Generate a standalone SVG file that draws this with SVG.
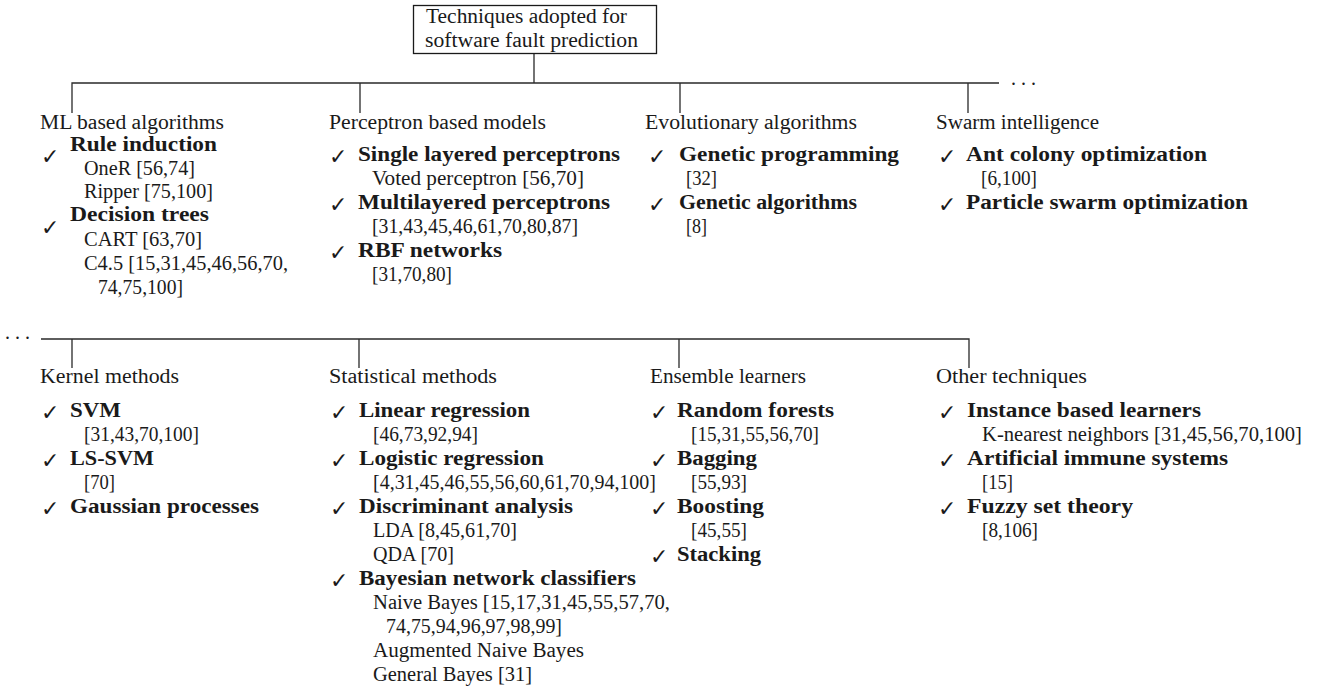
<svg xmlns="http://www.w3.org/2000/svg" width="1323" height="690" viewBox="0 0 1323 690">
<style>
text{font-family:"Liberation Serif","Times New Roman",serif;font-size:20px;fill:#1a1a1a}
.b{font-weight:bold}
.ck{font-family:"DejaVu Sans",sans-serif;font-size:22px;fill:#1a1a1a}
.ln{stroke:#2a2a2a;stroke-width:1.3;fill:none}
.dots{letter-spacing:5px}
</style>
<rect width="1323" height="690" fill="#ffffff"/>
<g id="connectors">
<path class="ln" d="M534 53V83M72 113V83H999M360 83V113M680 83V113M968 83V113"/>
<path class="ln" d="M41 339H969V368M72 339V368M359 339V368M679 339V368"/>
</g>
<text class="dots" x="1011" y="85">...</text>
<text class="dots" x="5" y="339">...</text>
<g id="root">
<rect x="413.5" y="5.5" width="243" height="48" fill="#fff" stroke="#1a1a1a" stroke-width="1.3"/>
<text x="426" y="23" textLength="201" lengthAdjust="spacingAndGlyphs">Techniques adopted for</text>
<text x="425" y="47" textLength="213" lengthAdjust="spacingAndGlyphs">software fault prediction</text>
</g>
<g id="ml">
<text x="40" y="129" textLength="184" lengthAdjust="spacingAndGlyphs">ML based algorithms</text>
<text class="ck" x="41" y="164">✓</text>
<text class="b" x="70" y="151" textLength="147" lengthAdjust="spacingAndGlyphs">Rule induction</text>
<text x="84" y="175" textLength="111" lengthAdjust="spacingAndGlyphs">OneR [56,74]</text>
<text x="84" y="198" textLength="129" lengthAdjust="spacingAndGlyphs">Ripper [75,100]</text>
<text class="ck" x="41" y="235">✓</text>
<text class="b" x="70" y="221" textLength="139" lengthAdjust="spacingAndGlyphs">Decision trees</text>
<text x="84" y="246" textLength="118" lengthAdjust="spacingAndGlyphs">CART [63,70]</text>
<text x="84" y="270" textLength="204" lengthAdjust="spacingAndGlyphs">C4.5 [15,31,45,46,56,70,</text>
<text x="98" y="294" textLength="85" lengthAdjust="spacingAndGlyphs">74,75,100]</text>
</g>
<g id="perceptron">
<text x="329" y="129" textLength="217" lengthAdjust="spacingAndGlyphs">Perceptron based models</text>
<text class="ck" x="329" y="164">✓</text>
<text class="b" x="358" y="161" textLength="262" lengthAdjust="spacingAndGlyphs">Single layered perceptrons</text>
<text x="372" y="185" textLength="212" lengthAdjust="spacingAndGlyphs">Voted perceptron [56,70]</text>
<text class="ck" x="329" y="212">✓</text>
<text class="b" x="358" y="209" textLength="252" lengthAdjust="spacingAndGlyphs">Multilayered perceptrons</text>
<text x="372" y="233" textLength="206" lengthAdjust="spacingAndGlyphs">[31,43,45,46,61,70,80,87]</text>
<text class="ck" x="329" y="260">✓</text>
<text class="b" x="358" y="257" textLength="144" lengthAdjust="spacingAndGlyphs">RBF networks</text>
<text x="372" y="281" textLength="80" lengthAdjust="spacingAndGlyphs">[31,70,80]</text>
</g>
<g id="evolutionary">
<text x="645" y="129" textLength="212" lengthAdjust="spacingAndGlyphs">Evolutionary algorithms</text>
<text class="ck" x="648" y="164">✓</text>
<text class="b" x="679" y="161" textLength="220" lengthAdjust="spacingAndGlyphs">Genetic programming</text>
<text x="686" y="185" textLength="31" lengthAdjust="spacingAndGlyphs">[32]</text>
<text class="ck" x="648" y="212">✓</text>
<text class="b" x="679" y="209" textLength="178" lengthAdjust="spacingAndGlyphs">Genetic algorithms</text>
<text x="686" y="233" textLength="21" lengthAdjust="spacingAndGlyphs">[8]</text>
</g>
<g id="swarm">
<text x="936" y="129" textLength="163" lengthAdjust="spacingAndGlyphs">Swarm intelligence</text>
<text class="ck" x="938" y="164">✓</text>
<text class="b" x="966" y="161" textLength="241" lengthAdjust="spacingAndGlyphs">Ant colony optimization</text>
<text x="981" y="185" textLength="56" lengthAdjust="spacingAndGlyphs">[6,100]</text>
<text class="ck" x="938" y="212">✓</text>
<text class="b" x="966" y="209" textLength="282" lengthAdjust="spacingAndGlyphs">Particle swarm optimization</text>
</g>
<g id="kernel">
<text x="40" y="383" textLength="139" lengthAdjust="spacingAndGlyphs">Kernel methods</text>
<text class="ck" x="41" y="420">✓</text>
<text class="b" x="70" y="417" textLength="51" lengthAdjust="spacingAndGlyphs">SVM</text>
<text x="84" y="441" textLength="115" lengthAdjust="spacingAndGlyphs">[31,43,70,100]</text>
<text class="ck" x="41" y="468">✓</text>
<text class="b" x="70" y="465" textLength="84" lengthAdjust="spacingAndGlyphs">LS-SVM</text>
<text x="84" y="489" textLength="31" lengthAdjust="spacingAndGlyphs">[70]</text>
<text class="ck" x="41" y="516">✓</text>
<text class="b" x="70" y="513" textLength="189" lengthAdjust="spacingAndGlyphs">Gaussian processes</text>
</g>
<g id="statistical">
<text x="329" y="383" textLength="168" lengthAdjust="spacingAndGlyphs">Statistical methods</text>
<text class="ck" x="330" y="420">✓</text>
<text class="b" x="359" y="417" textLength="171" lengthAdjust="spacingAndGlyphs">Linear regression</text>
<text x="373" y="441" textLength="105" lengthAdjust="spacingAndGlyphs">[46,73,92,94]</text>
<text class="ck" x="330" y="468">✓</text>
<text class="b" x="359" y="465" textLength="185" lengthAdjust="spacingAndGlyphs">Logistic regression</text>
<text x="373" y="489" textLength="283" lengthAdjust="spacingAndGlyphs">[4,31,45,46,55,56,60,61,70,94,100]</text>
<text class="ck" x="330" y="516">✓</text>
<text class="b" x="359" y="513" textLength="214" lengthAdjust="spacingAndGlyphs">Discriminant analysis</text>
<text x="373" y="537" textLength="144" lengthAdjust="spacingAndGlyphs">LDA [8,45,61,70]</text>
<text x="373" y="561" textLength="81" lengthAdjust="spacingAndGlyphs">QDA [70]</text>
<text class="ck" x="330" y="588">✓</text>
<text class="b" x="359" y="585" textLength="277" lengthAdjust="spacingAndGlyphs">Bayesian network classifiers</text>
<text x="373" y="609" textLength="297" lengthAdjust="spacingAndGlyphs">Naive Bayes [15,17,31,45,55,57,70,</text>
<text x="386" y="633" textLength="176" lengthAdjust="spacingAndGlyphs">74,75,94,96,97,98,99]</text>
<text x="373" y="657" textLength="211" lengthAdjust="spacingAndGlyphs">Augmented Naive Bayes</text>
<text x="373" y="681" textLength="159" lengthAdjust="spacingAndGlyphs">General Bayes [31]</text>
</g>
<g id="ensemble">
<text x="650" y="383" textLength="156" lengthAdjust="spacingAndGlyphs">Ensemble learners</text>
<text class="ck" x="650" y="420">✓</text>
<text class="b" x="677" y="417" textLength="157" lengthAdjust="spacingAndGlyphs">Random forests</text>
<text x="691" y="441" textLength="128" lengthAdjust="spacingAndGlyphs">[15,31,55,56,70]</text>
<text class="ck" x="650" y="468">✓</text>
<text class="b" x="677" y="465" textLength="80" lengthAdjust="spacingAndGlyphs">Bagging</text>
<text x="691" y="489" textLength="56" lengthAdjust="spacingAndGlyphs">[55,93]</text>
<text class="ck" x="650" y="516">✓</text>
<text class="b" x="677" y="513" textLength="87" lengthAdjust="spacingAndGlyphs">Boosting</text>
<text x="691" y="537" textLength="56" lengthAdjust="spacingAndGlyphs">[45,55]</text>
<text class="ck" x="650" y="564">✓</text>
<text class="b" x="677" y="561" textLength="84" lengthAdjust="spacingAndGlyphs">Stacking</text>
</g>
<g id="other">
<text x="936" y="383" textLength="151" lengthAdjust="spacingAndGlyphs">Other techniques</text>
<text class="ck" x="938" y="420">✓</text>
<text class="b" x="967" y="417" textLength="234" lengthAdjust="spacingAndGlyphs">Instance based learners</text>
<text x="982" y="441" textLength="320" lengthAdjust="spacingAndGlyphs">K-nearest neighbors [31,45,56,70,100]</text>
<text class="ck" x="938" y="468">✓</text>
<text class="b" x="967" y="465" textLength="261" lengthAdjust="spacingAndGlyphs">Artificial immune systems</text>
<text x="982" y="489" textLength="31" lengthAdjust="spacingAndGlyphs">[15]</text>
<text class="ck" x="938" y="516">✓</text>
<text class="b" x="967" y="513" textLength="166" lengthAdjust="spacingAndGlyphs">Fuzzy set theory</text>
<text x="982" y="537" textLength="56" lengthAdjust="spacingAndGlyphs">[8,106]</text>
</g>
</svg>
